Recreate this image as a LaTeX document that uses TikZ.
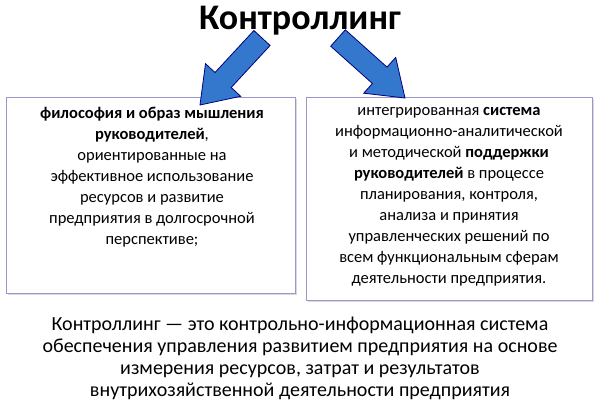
\documentclass[tikz,border=0pt]{standalone}
\usepackage{fontspec}
\setmainfont{Carlito}
\usetikzlibrary{shadows,positioning}

\begin{document}
\begin{tikzpicture}[
    x=1pt, y=-1pt,
    infobox/.style={draw=blue!35!gray!60, line width=0.8pt, fill=white,
        drop shadow={shadow xshift=1.5pt, shadow yshift=-1.5pt, opacity=0.3}},
    bigarrow/.style={draw=blue!50!black, fill=blue!55!cyan!60!gray, line width=0.8pt, line join=miter}
]
\useasboundingbox (0,0) rectangle (600,408);

% Title
\node[font=\fontsize{36}{40}\selectfont\bfseries] (title) at (300,21) {Контроллинг};

% Boxes
\draw[infobox] (6,97) rectangle (295,293);
\draw[infobox] (306,97) rectangle (592,300);

% Arrows
\draw[bigarrow] (253.9,30.5) -- (215.0,72.5) -- (205.5,63.7) -- (200,105)
    -- (240.7,96.3) -- (231.2,87.5) -- (270.1,45.5) -- cycle;
\draw[bigarrow] (345.3,29.8) -- (387.0,67.1) -- (395.7,57.4) -- (405,98)
    -- (363.7,93.2) -- (372.4,83.5) -- (330.7,46.2) -- cycle;

\node[align=center, font=\fontsize{16.5}{21}\selectfont, anchor=north] (philosophy) at (152,104)
    {\textbf{философия и образ мышления}\\ \textbf{руководителей},\\ ориентированные на\\
     эффективное использование\\ ресурсов и развитие\\ предприятия в долгосрочной\\ перспективе;};
\node[align=center, font=\fontsize{16.5}{21}\selectfont, anchor=north] (system) at (449,104)
    {интегрированная \textbf{система}\\ информационно-аналитической\\ и методической \textbf{поддержки}\\
     \textbf{руководителей} в процессе\\ планирования, контроля,\\ анализа и принятия\\
     управленческих решений по\\ всем функциональным сферам\\ деятельности предприятия.};

% Definition
\node[align=center, font=\fontsize{20}{22}\selectfont, anchor=north] (definition) at (300,313)
    {Контроллинг — это контрольно-информационная система\\
     обеспечения управления развитием предприятия на основе\\
     измерения ресурсов, затрат и результатов\\
     внутрихозяйственной деятельности предприятия};
\end{tikzpicture}
\end{document}
